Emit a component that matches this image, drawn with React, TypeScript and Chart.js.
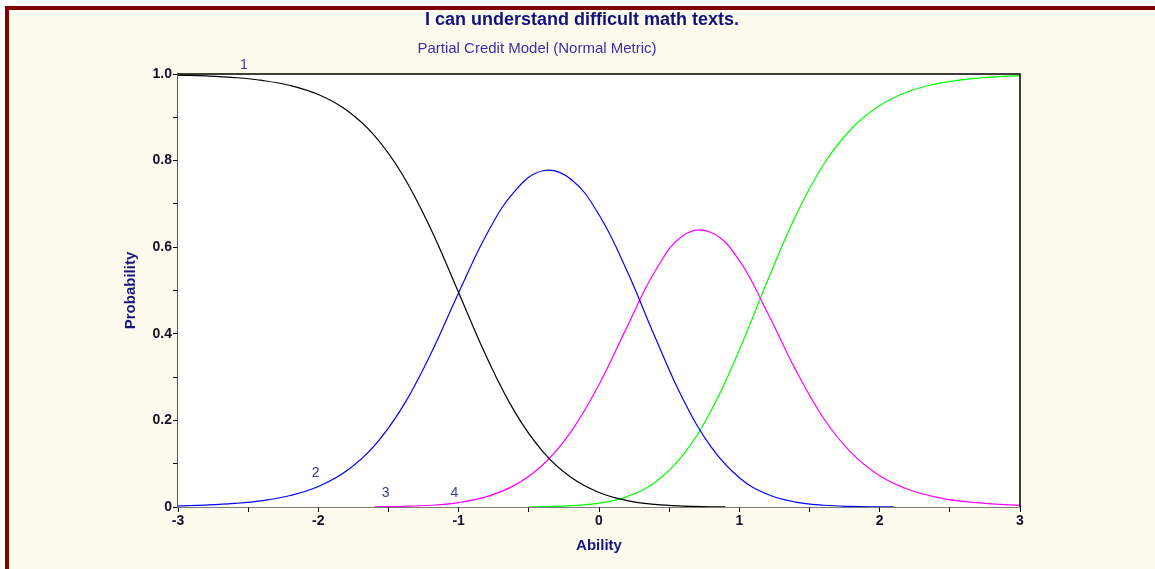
import React, { useEffect, useRef } from "react";
import { Chart, registerables } from "chart.js";

Chart.register(...registerables);

// Category response curves, partial credit model (normal metric)
const cat1Ability = [-3, -2.8, -2.6, -2.4, -2.2, -2, -1.8, -1.6, -1.4, -1.2, -1, -0.8, -0.6, -0.4, -0.2, 0, 0.2, 0.4, 0.6, 0.8, 0.9];
const cat1Prob = [0.9975, 0.9955, 0.9918, 0.9852, 0.9734, 0.9525, 0.9167, 0.8577, 0.7674, 0.643, 0.4948, 0.3458, 0.2197, 0.1279, 0.0685, 0.0336, 0.0149, 0.0059, 0.002, 0.0006, 0.0003];

const cat2Ability = [-3, -2.8, -2.6, -2.4, -2.2, -2, -1.8, -1.6, -1.4, -1.2, -1, -0.8, -0.6, -0.4, -0.2, 0, 0.2, 0.4, 0.6, 0.8, 1, 1.2, 1.4, 1.6, 1.8, 2, 2.1];
const cat2Prob = [0.0025, 0.0045, 0.0082, 0.0148, 0.0266, 0.0474, 0.0831, 0.1418, 0.2311, 0.3529, 0.4948, 0.6301, 0.7295, 0.7766, 0.7569, 0.6748, 0.545, 0.3918, 0.2482, 0.1381, 0.0676, 0.0293, 0.0114, 0.004, 0.0013, 0.0004, 0.0002];

const cat3Ability = [-1.6, -1.4, -1.2, -1, -0.8, -0.6, -0.4, -0.2, 0, 0.2, 0.4, 0.6, 0.8, 1, 1.2, 1.4, 1.6, 1.8, 2, 2.2, 2.4, 2.6, 2.8, 3];
const cat3Prob = [0.0005, 0.0015, 0.004, 0.0103, 0.024, 0.0505, 0.0976, 0.1736, 0.2827, 0.416, 0.5449, 0.627, 0.634, 0.5692, 0.449, 0.3172, 0.205, 0.1244, 0.0724, 0.0411, 0.023, 0.0128, 0.007, 0.0039];

const cat4Ability = [-0.5, -0.4, -0.2, 0, 0.2, 0.4, 0.6, 0.8, 1, 1.2, 1.4, 1.6, 1.8, 2, 2.2, 2.4, 2.6, 2.8, 3];
const cat4Prob = [0.0005, 0.0009, 0.003, 0.009, 0.0241, 0.0574, 0.1208, 0.2233, 0.3629, 0.5217, 0.6715, 0.7909, 0.8742, 0.9272, 0.9589, 0.977, 0.9872, 0.993, 0.9961];

const curveColors = ["#000000", "#0000ff", "#ff00ff", "#00ff00"];

// Category number tags, anchored in data units
const tagText = ["1", "2", "3", "4"];
const tagAbility = [-2.53, -2.02, -1.52, -1.03];
const tagProb = [1.02, 0.078, 0.032, 0.032];

const titleText = "I can understand difficult math texts.";
const subtitleText = "Partial Credit Model (Normal Metric)";
const xTitle = "Ability";
const yTitle = "Probability";

const FONT = "'Liberation Sans', Arial, sans-serif";

const toPoints = (xs: number[], ys: number[]) => xs.map((x, i) => ({ x, y: ys[i] }));

const decorPlugin = {
  id: "decor",
  beforeDatasetsDraw(chart: any) {
    const { ctx, chartArea } = chart;
    ctx.save();
    ctx.fillStyle = "#ffffff";
    ctx.fillRect(chartArea.left, chartArea.top, chartArea.right - chartArea.left, chartArea.bottom - chartArea.top);
    ctx.restore();
  },
  afterDraw(chart: any) {
    const { ctx, chartArea, scales } = chart;
    ctx.save();
    // frame: top and right edges
    ctx.strokeStyle = "#000000";
    ctx.lineWidth = 1.5;
    ctx.beginPath();
    ctx.moveTo(chartArea.left, chartArea.top);
    ctx.lineTo(chartArea.right, chartArea.top);
    ctx.lineTo(chartArea.right, chartArea.bottom);
    ctx.stroke();

    // titles
    ctx.textAlign = "center";
    ctx.textBaseline = "middle";
    ctx.fillStyle = "#12127a";
    ctx.font = `bold 18px ${FONT}`;
    ctx.fillText(titleText, 582, 20);
    ctx.fillStyle = "#3a2eaa";
    ctx.font = `15px ${FONT}`;
    ctx.fillText(subtitleText, 537, 49);

    // axis titles
    ctx.fillStyle = "#16167e";
    ctx.font = `bold 15px ${FONT}`;
    ctx.fillText(xTitle, (chartArea.left + chartArea.right) / 2, 546);
    ctx.save();
    ctx.translate(131, (chartArea.top + chartArea.bottom) / 2);
    ctx.rotate(-Math.PI / 2);
    ctx.fillText(yTitle, 0, 0);
    ctx.restore();

    // category tags
    ctx.fillStyle = "#3a3a9a";
    ctx.font = `14px ${FONT}`;
    tagText.forEach((t, i) => {
      ctx.fillText(t, scales.x.getPixelForValue(tagAbility[i]), scales.y.getPixelForValue(tagProb[i]));
    });
    ctx.restore();
  },
};

export default function App() {
  const canvasRef = useRef<HTMLCanvasElement | null>(null);

  useEffect(() => {
    document.body.style.margin = "0";
    const canvas = canvasRef.current;
    if (!canvas) return;
    const tickFont = { family: FONT, size: 14, weight: "bold" as const };
    const chart = new Chart(canvas, {
      type: "line",
      data: {
        datasets: [
          { data: toPoints(cat1Ability, cat1Prob), borderColor: curveColors[0] },
          { data: toPoints(cat2Ability, cat2Prob), borderColor: curveColors[1] },
          { data: toPoints(cat3Ability, cat3Prob), borderColor: curveColors[2] },
          { data: toPoints(cat4Ability, cat4Prob), borderColor: curveColors[3] },
        ].map((d) => ({ ...d, borderWidth: 1.2, pointRadius: 0, tension: 0.4, fill: false })),
      },
      options: {
        responsive: false,
        animation: false,
        devicePixelRatio: 1,
        layout: { padding: { left: 100, top: 74, right: 135, bottom: 20 } },
        plugins: { legend: { display: false }, tooltip: { enabled: false }, title: { display: false } },
        scales: {
          x: {
            type: "linear",
            min: -3,
            max: 3,
            ticks: {
              stepSize: 0.5,
              autoSkip: false,
              maxRotation: 0,
              padding: 1,
              color: "#111122",
              font: tickFont,
              callback: (v: any) => (Number.isInteger(Number(v)) ? String(v) : ""),
            },
            grid: { drawOnChartArea: false, drawTicks: true, tickLength: 5, color: "#000000", lineWidth: 1 },
            border: { display: true, color: "#000000", width: 1.5 },
            afterFit: (scale: any) => {
              scale.height = 42;
            },
          },
          y: {
            type: "linear",
            min: 0,
            max: 1,
            ticks: {
              stepSize: 0.1,
              autoSkip: false,
              padding: 1,
              color: "#111122",
              font: tickFont,
              callback: (v: any) => {
                const n = Math.round(Number(v) * 10);
                if (n % 2 !== 0) return "";
                if (n === 0) return "0";
                return (n / 10).toFixed(1);
              },
            },
            grid: { drawOnChartArea: false, drawTicks: true, tickLength: 5, color: "#000000", lineWidth: 1 },
            border: { display: true, color: "#555555", width: 1.5 },
            afterFit: (scale: any) => {
              scale.width = 78;
            },
          },
        },
      },
      plugins: [decorPlugin],
    });
    return () => chart.destroy();
  }, []);

  return (
    <div style={{ position: "fixed", left: 0, top: 0, width: 1155, height: 569, background: "#ffffff", overflow: "hidden" }}>
      <div
        style={{
          position: "absolute",
          left: 5,
          top: 6,
          right: 0,
          bottom: 0,
          background: "#fdfaee",
          borderTop: "4px solid #800000",
          borderLeft: "4px solid #800000",
        }}
      />
      <canvas ref={canvasRef} width={1155} height={569} style={{ position: "absolute", left: 0, top: 0 }} />
    </div>
  );
}
